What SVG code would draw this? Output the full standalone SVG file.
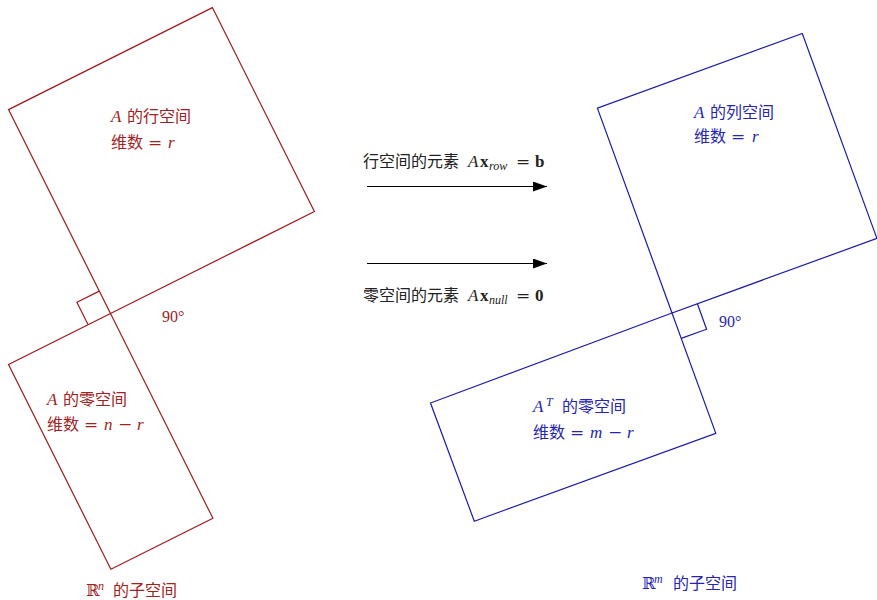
<svg xmlns="http://www.w3.org/2000/svg" width="877" height="600" viewBox="0 0 877 600">
<style>
.r{stroke:#9b1b1b;fill:none;stroke-width:1.2}
.b{stroke:#1b1ba8;fill:none;stroke-width:1.2}
text{font-family:"Noto Sans CJK SC","Liberation Serif",sans-serif;font-size:16px}
.rt{fill:#a02222}
.bt{fill:#2525b0}
.m{font-family:"Liberation Serif","DejaVu Serif",serif;font-style:italic;font-size:17px}
.s{font-family:"Liberation Serif","DejaVu Serif",serif;font-style:italic;font-size:12px}
.n{font-family:"Liberation Serif","DejaVu Serif",serif}
.e{font-family:"DejaVu Serif","Liberation Serif",serif;font-size:17px}
.bd{font-family:"Liberation Serif","DejaVu Serif",serif;font-weight:bold;font-size:17px}
.bb{font-family:"DejaVu Serif","Liberation Serif",serif}
.k{fill:#222}
</style>
<defs>
<marker id="ah" markerWidth="14" markerHeight="10" refX="14" refY="5" orient="auto" markerUnits="userSpaceOnUse">
<path d="M0,0 L14,5 L0,10 Z" fill="#000"/>
</marker>
</defs>
<rect width="877" height="600" fill="#fff"/>
<g id="row-space">
<polygon class="r" points="110.5,313.5 8.5,109.6 212.4,7.6 314.4,211.5"/>
<text class="rt" y="122"><tspan class="m" x="111">A</tspan><tspan x="127">的行空间</tspan></text>
<text class="rt" y="148"><tspan x="111">维数</tspan><tspan class="e" x="148">=</tspan><tspan class="m" x="168">r</tspan></text>
</g>
<g id="null-space">
<polygon class="r" points="110.5,313.5 8.5,364.5 110.9,569.3 212.9,518.3"/>
<text class="rt" y="405"><tspan class="m" x="47">A</tspan><tspan x="63">的零空间</tspan></text>
<text class="rt" y="430"><tspan x="47">维数</tspan><tspan class="e" x="84">=</tspan><tspan class="m" x="104">n</tspan><tspan class="e" x="118">−</tspan><tspan class="m" x="137">r</tspan></text>
</g>
<g id="angle-left">
<path class="r" d="M99.3,291.1 L76.9,302.3 L88.1,324.7"/>
<text class="rt n" x="162" y="322">90°</text>
</g>
<g id="col-space">
<polygon class="b" points="672,313 597.4,108.1 802.3,33.5 876.9,238.4"/>
<text class="bt" y="118"><tspan class="m" x="694">A</tspan><tspan x="710">的列空间</tspan></text>
<text class="bt" y="142"><tspan x="694">维数</tspan><tspan class="e" x="731">=</tspan><tspan class="m" x="752">r</tspan></text>
</g>
<g id="left-null-space">
<polygon class="b" points="672,313 430.5,403 474.3,521.2 715.8,433.3"/>
<text class="bt" y="412"><tspan class="m" x="533">A</tspan><tspan class="s" x="546" dy="-6">T</tspan><tspan x="562" dy="6">的零空间</tspan></text>
<text class="bt" y="438"><tspan x="533">维数</tspan><tspan class="e" x="570">=</tspan><tspan class="m" x="590">m</tspan><tspan class="e" x="608">−</tspan><tspan class="m" x="627">r</tspan></text>
</g>
<g id="angle-right">
<path class="b" d="M697.4,303.8 L706.6,329.2 L681.2,338.4"/>
<text class="bt n" x="719" y="327">90°</text>
</g>
<g id="connectors">
<line x1="367" y1="186.5" x2="547" y2="186.5" stroke="#000" stroke-width="1.1" marker-end="url(#ah)"/>
<line x1="367" y1="263.5" x2="547" y2="263.5" stroke="#000" stroke-width="1.1" marker-end="url(#ah)"/>
</g>
<g id="label-row">
<text class="k" y="167"><tspan x="363">行空间的元素</tspan><tspan class="m" x="468">A</tspan><tspan class="bd" x="480">x</tspan><tspan class="s" x="489" dy="3">row</tspan><tspan class="e" x="516" dy="-3">=</tspan><tspan class="bd" x="535">b</tspan></text>
</g>
<g id="label-null">
<text class="k" y="301"><tspan x="363">零空间的元素</tspan><tspan class="m" x="468">A</tspan><tspan class="bd" x="480">x</tspan><tspan class="s" x="489" dy="3">null</tspan><tspan class="e" x="516" dy="-3">=</tspan><tspan class="bd" x="535">0</tspan></text>
</g>
<g id="caption-left">
<text class="rt" y="596"><tspan class="bb" x="86">ℝ</tspan><tspan class="s" x="98" dy="-6">n</tspan><tspan x="113" dy="6">的子空间</tspan></text>
</g>
<g id="caption-right">
<text class="bt" y="589"><tspan class="bb" x="642">ℝ</tspan><tspan class="s" x="654" dy="-6">m</tspan><tspan x="673" dy="6">的子空间</tspan></text>
</g>
</svg>
